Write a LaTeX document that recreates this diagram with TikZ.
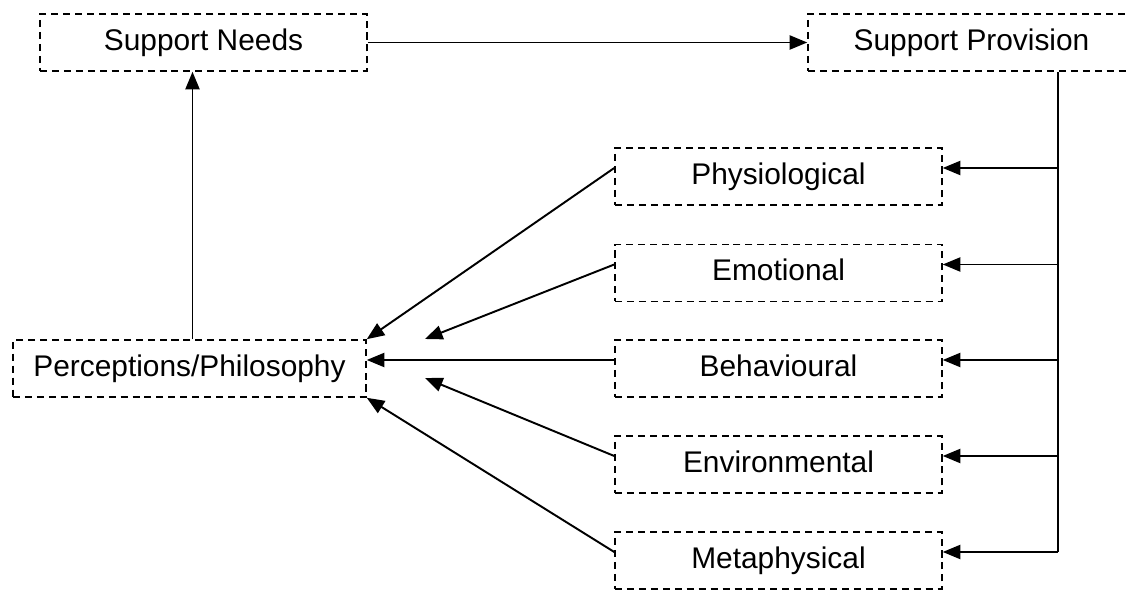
\documentclass[tikz,border=0pt]{standalone}
\usepackage{fontspec}
\setmainfont{Liberation Sans}
\usepackage{tikz}
\usetikzlibrary{arrows.meta}
\usetikzlibrary{calc}

\begin{document}
\begin{tikzpicture}[x=0.02cm,y=-0.02cm,
        box/.style={draw=black,line width=0.9pt,dash pattern=on 4pt off 2.8pt,
            minimum width=6.54cm,minimum height=1.14cm,inner sep=0pt,
            text height=1.9ex,text depth=0.2ex,
            font=\fontsize{17}{20}\selectfont},
        link/.style={line width=1.1pt,-{Triangle[length=10pt,width=8pt]}}]
        \useasboundingbox (0,0) rectangle (1130,590);

        % top line
        \node[box] (sn) at (203.5,42.5) {Support Needs};
        \node[box] (sp) at (971.5,42.5) {Support Provision};
        % left
        \node[box,minimum width=7.06cm] (pp) at (189.5,368.5) {Perceptions/Philosophy};
        % kinds of support
        \node[box] (phy) at (778.5,176.5) {Physiological};
        \node[box] (emo) at (778.5,273) {Emotional};
        \node[box] (beh) at (778.5,368.5) {Behavioural};
        \node[box] (env) at (778.5,464.5) {Environmental};
        \node[box] (met) at (778.5,560.5) {Metaphysical};

        \coordinate (bus) at ([xshift=1.73cm]sp.south);
        \coordinate (emoTip) at (425,339);
        \coordinate (envTip) at (425,378);
        \foreach \k in {phy,emo,beh,env,met} {
            \coordinate (\k R) at ([yshift=0.17cm]\k.east);
            \coordinate (\k L) at ([yshift=0.17cm]\k.west);
        }

        \draw[link] (sn.east) -- (sp.west);
        \draw[link] ([xshift=0.06cm]pp.north) -- ([xshift=0.06cm]pp.north |- sn.south);

        % bus down the right side
        \draw[line width=1.1pt] (bus) -- (bus |- metR);
        \foreach \k in {phy,emo,beh,env,met}
            \draw[link] (bus |- \k R) -- (\k R);

        % into perceptions
        \draw[link] (phyL) -- (pp.north east);
        \draw[link] (emoL) -- (emoTip);
        \draw[link] (behL) -- (behL -| pp.east);
        \draw[link] (envL) -- (envTip);
        \draw[link] (metL) -- (pp.south east);
\end{tikzpicture}
\end{document}
